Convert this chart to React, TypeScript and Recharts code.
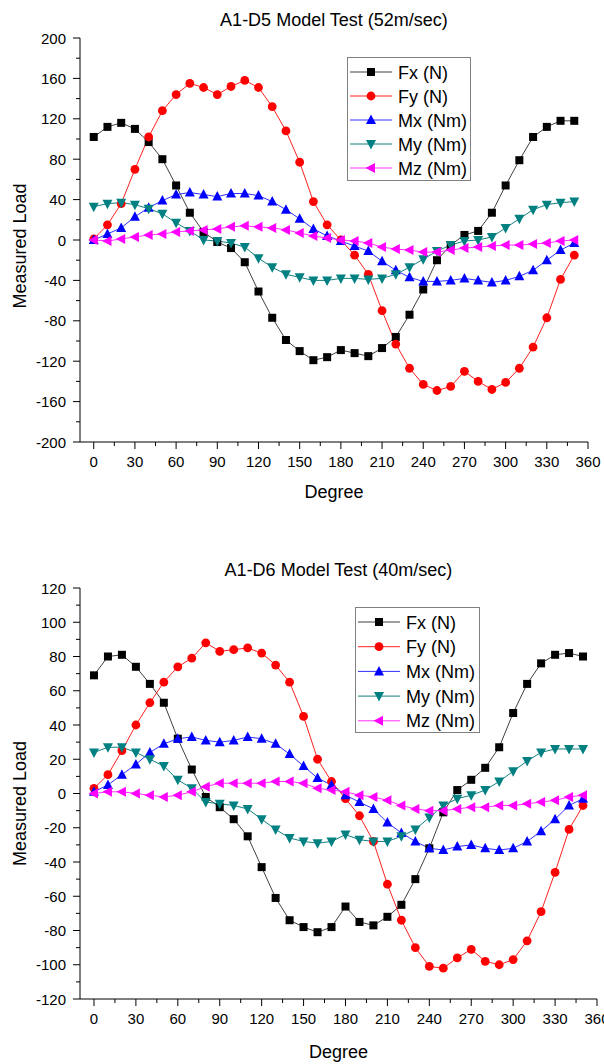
import { Label, Legend, Line, LineChart, XAxis, YAxis } from 'recharts';

const FONT = '"Liberation Sans", Arial, sans-serif';

const DEGREES = [0, 10, 20, 30, 40, 50, 60, 70, 80, 90, 100, 110, 120, 130, 140, 150, 160, 170, 180, 190, 200, 210, 220, 230, 240, 250, 260, 270, 280, 290, 300, 310, 320, 330, 340, 350];

const DEGREE_TICKS = [0, 15, 30, 45, 60, 75, 90, 105, 120, 135, 150, 165, 180, 195, 210, 225, 240, 255, 270, 285, 300, 315, 330, 345, 360];
const D5_LOAD_TICKS = [-200, -180, -160, -140, -120, -100, -80, -60, -40, -20, 0, 20, 40, 60, 80, 100, 120, 140, 160, 180, 200];
const D6_LOAD_TICKS = [-120, -110, -100, -90, -80, -70, -60, -50, -40, -30, -20, -10, 0, 10, 20, 30, 40, 50, 60, 70, 80, 90, 100, 110, 120];

// A1-D5, 52 m/s
const D5_FX = [102, 112, 116, 110, 97, 80, 54, 27, 8, -2, -8, -22, -51, -77, -99, -110, -119, -116, -109, -112, -115, -107, -96, -74, -49, -20, -5, 5, 9, 27, 54, 79, 102, 112, 118, 118];
const D5_FY = [1, 15, 36, 70, 102, 128, 144, 155, 151, 144, 152, 158, 151, 132, 108, 77, 38, 15, 0, -15, -34, -70, -103, -127, -143, -149, -145, -130, -140, -148, -141, -127, -106, -77, -39, -15];
const D5_MX = [0, 6, 12, 23, 32, 39, 45, 47, 45, 43, 46, 46, 44, 38, 30, 21, 11, 4, -1, -6, -11, -21, -30, -37, -41, -41, -40, -38, -40, -42, -40, -36, -30, -20, -10, -3];
const D5_MY = [33, 36, 37, 35, 31, 26, 17, 9, 0, -1, -3, -7, -18, -27, -34, -37, -40, -40, -38, -38, -39, -38, -34, -27, -19, -11, -5, -1, 0, 3, 12, 21, 30, 35, 37, 38];
const D5_MZ = [0, -1, 1, 3, 5, 6, 8, 9, 10, 11, 13, 14, 13, 12, 10, 7, 4, 2, 0, -1, -3, -7, -9, -10, -12, -12, -10, -8, -7, -6, -5, -5, -4, -3, -1, 0];

// A1-D6, 40 m/s
const D6_FX = [69, 80, 81, 74, 64, 53, 32, 14, -2, -8, -15, -25, -43, -61, -74, -78, -81, -78, -66, -75, -77, -72, -65, -50, -32, -11, 2, 8, 15, 27, 47, 64, 76, 81, 82, 80];
const D6_FY = [3, 11, 25, 40, 53, 65, 74, 79, 88, 83, 84, 85, 82, 75, 65, 45, 20, 7, -3, -13, -28, -53, -74, -90, -101, -102, -96, -91, -98, -100, -97, -86, -69, -46, -21, -7];
const D6_MX = [1, 5, 11, 17, 24, 29, 32, 33, 31, 30, 31, 33, 32, 29, 23, 16, 9, 5, -1, -5, -9, -17, -23, -28, -32, -33, -31, -30, -32, -33, -32, -28, -22, -15, -7, -3];
const D6_MY = [24, 27, 27, 24, 20, 16, 8, 3, -5, -6, -7, -9, -15, -21, -26, -28, -29, -28, -24, -27, -28, -28, -25, -21, -14, -7, -3, -1, 2, 7, 13, 19, 24, 26, 26, 26];
const D6_MZ = [0, 1, 1, 0, -1, -2, -1, 1, 4, 6, 6, 6, 6, 7, 7, 6, 3, 2, 1, -1, -2, -4, -7, -9, -10, -10, -9, -8, -8, -7, -7, -6, -5, -4, -2, -1];

const SERIES = [
    { key: 'fx', name: 'Fx (N)', stroke: '#404040', fill: '#000000', shape: 'square' },
    { key: 'fy', name: 'Fy (N)', stroke: '#ff2020', fill: '#ff0000', shape: 'circle' },
    { key: 'mx', name: 'Mx (Nm)', stroke: '#3030ff', fill: '#0000ff', shape: 'up' },
    { key: 'my', name: 'My (Nm)', stroke: '#108080', fill: '#008080', shape: 'down' },
    { key: 'mz', name: 'Mz (Nm)', stroke: '#ff30ff', fill: '#ff00ff', shape: 'left' },
];

const buildRows = (fx: number[], fy: number[], mx: number[], my: number[], mz: number[]) =>
    DEGREES.map((deg, i) => ({ deg, fx: fx[i], fy: fy[i], mx: mx[i], my: my[i], mz: mz[i] }));

function Marker({ shape, cx, cy, fill }: { shape: string; cx?: number; cy?: number; fill: string }) {
    if (cx == null || cy == null) return null;
    switch (shape) {
        case 'square':
            return <rect x={cx - 4} y={cy - 4} width={8} height={8} fill={fill} />;
        case 'circle':
            return <circle cx={cx} cy={cy} r={4.4} fill={fill} />;
        case 'up':
            return <polygon points={`${cx},${cy - 5.5} ${cx + 5},${cy + 4} ${cx - 5},${cy + 4}`} fill={fill} />;
        case 'down':
            return <polygon points={`${cx - 5},${cy - 4} ${cx + 5},${cy - 4} ${cx},${cy + 5.5}`} fill={fill} />;
        default:
            return <polygon points={`${cx - 5.5},${cy} ${cx + 4},${cy - 5} ${cx + 4},${cy + 5}`} fill={fill} />;
    }
}

function LegendBox({ w, h, gap }: { w: number; h: number; gap: number }) {
    return (
        <svg width={w} height={h} style={{ display: 'block' }}>
            <rect x={0.5} y={0.5} width={w - 1} height={h - 1} fill="#fff" stroke="#808080" />
            {SERIES.map((s, i) => {
                const cy = 15 + i * gap;
                return (
                    <g key={s.key}>
                        <line x1={3} x2={45} y1={cy} y2={cy} stroke={s.stroke} />
                        <Marker shape={s.shape} cx={24} cy={cy} fill={s.fill} />
                        <text x={51} y={cy + 6.5} fontSize={18} fontFamily={FONT} fill="#000">
                            {s.name}
                        </text>
                    </g>
                );
            })}
        </svg>
    );
}

const DegreeTick = (props: any) => {
    const { x, y, payload } = props;
    const major = payload.value % 30 === 0;
    return (
        <g>
            <line x1={x} x2={x} y1={y} y2={y + (major ? 7 : 4)} stroke="#000" />
            {major && (
                <text x={x} y={y + 25} textAnchor="middle" fontSize={15} fontFamily={FONT} fill="#000">
                    {payload.value}
                </text>
            )}
        </g>
    );
};

const makeLoadTick = (step: number) => (props: any) => {
    const { x, y, payload } = props;
    const major = payload.value % step === 0;
    return (
        <g>
            <line x1={x - (major ? 7 : 4)} x2={x} y1={y} y2={y} stroke="#000" />
            {major && (
                <text x={x - 14} y={y + 5.5} textAnchor="end" fontSize={15} fontFamily={FONT} fill="#000">
                    {payload.value}
                </text>
            )}
        </g>
    );
};

type ChartProps = {
    title: string;
    rows: ReturnType<typeof buildRows>;
    loadTicks: number[];
    labelStep: number;
    top: number;
    height: number;
    marginRight: number;
    xAxisHeight: number;
    degreeDy: number;
    loadShift: number;
    legend: { left: number; top: number; w: number; h: number; gap: number };
};

function LoadChart(p: ChartProps) {
    const plotW = 604 - 80 - p.marginRight;
    const lo = p.loadTicks[0];
    const hi = p.loadTicks[p.loadTicks.length - 1];
    return (
        <div style={{ position: 'absolute', left: 0, top: p.top, width: 604, height: p.height }}>
            <LineChart width={604} height={p.height} data={p.rows} margin={{ top: 38, right: p.marginRight, bottom: 0, left: 0 }}>
                <XAxis
                    dataKey="deg"
                    type="number"
                    domain={[-10, 360]}
                    ticks={DEGREE_TICKS}
                    interval={0}
                    height={p.xAxisHeight}
                    tickSize={0}
                    tickMargin={0}
                    tickLine={false}
                    tick={DegreeTick}
                    axisLine={{ stroke: '#000' }}
                >
                    <Label
                        content={(lp: any) => {
                            const vb = lp.viewBox;
                            return (
                                <text x={vb.x + vb.width / 2} y={vb.y + p.degreeDy} textAnchor="middle" fontSize={18} fontFamily={FONT} fill="#000">
                                    Degree
                                </text>
                            );
                        }}
                    />
                </XAxis>
                <YAxis
                    type="number"
                    domain={[lo, hi]}
                    ticks={p.loadTicks}
                    interval={0}
                    width={80}
                    tickSize={0}
                    tickMargin={0}
                    tickLine={false}
                    tick={makeLoadTick(p.labelStep)}
                    axisLine={{ stroke: '#000' }}
                >
                    <Label
                        content={(lp: any) => {
                            const vb = lp.viewBox;
                            const cx = 26;
                            const cy = vb.y + vb.height / 2 + p.loadShift;
                            return (
                                <text x={cx} y={cy} transform={`rotate(-90, ${cx}, ${cy})`} textAnchor="middle" fontSize={18} fontFamily={FONT} fill="#000">
                                    Measured Load
                                </text>
                            );
                        }}
                    />
                </YAxis>
                <Legend
                    layout="vertical"
                    align="center"
                    verticalAlign="middle"
                    wrapperStyle={{ left: p.legend.left, top: p.legend.top, width: p.legend.w, height: p.legend.h }}
                    content={() => <LegendBox w={p.legend.w} h={p.legend.h} gap={p.legend.gap} />}
                />
                {SERIES.map((s) => (
                    <Line
                        key={s.key}
                        dataKey={s.key}
                        name={s.name}
                        stroke={s.stroke}
                        strokeWidth={1}
                        type="linear"
                        isAnimationActive={false}
                        activeDot={false}
                        dot={(d: any) => <Marker key={`${s.key}-${d.index}`} shape={s.shape} cx={d.cx} cy={d.cy} fill={s.fill} />}
                    />
                ))}
            </LineChart>
            <div
                style={{
                    position: 'absolute',
                    left: 80,
                    width: plotW,
                    top: 11,
                    textAlign: 'center',
                    fontSize: 18,
                    lineHeight: '18px',
                    fontFamily: FONT,
                    color: '#000',
                }}
            >
                {p.title}
            </div>
        </div>
    );
}

export default function App() {
    return (
        <div style={{ position: 'absolute', left: 0, top: 0, width: 604, height: 1064, background: '#fff', overflow: 'hidden' }}>
            <LoadChart
                title="A1-D5 Model Test (52m/sec)"
                rows={buildRows(D5_FX, D5_FY, D5_MX, D5_MY, D5_MZ)}
                loadTicks={D5_LOAD_TICKS}
                labelStep={40}
                top={0}
                height={510}
                marginRight={16}
                xAxisHeight={68}
                degreeDy={56}
                loadShift={6}
                legend={{ left: 347, top: 57, w: 124, h: 124, gap: 24 }}
            />
            <LoadChart
                title="A1-D6 Model Test (40m/sec)"
                rows={buildRows(D6_FX, D6_FY, D6_MX, D6_MY, D6_MZ)}
                loadTicks={D6_LOAD_TICKS}
                labelStep={20}
                top={550}
                height={514}
                marginRight={7}
                xAxisHeight={65}
                degreeDy={59}
                loadShift={10}
                legend={{ left: 355, top: 57, w: 125, h: 126, gap: 24.7 }}
            />
        </div>
    );
}
